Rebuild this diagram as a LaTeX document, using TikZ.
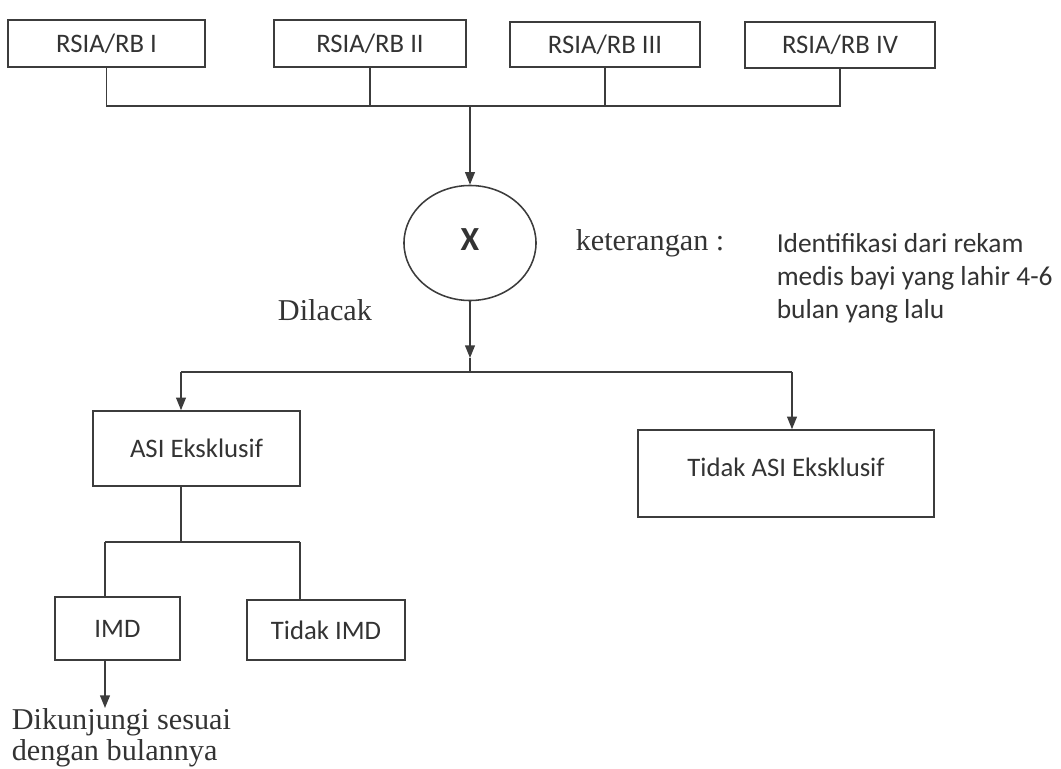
\documentclass[tikz,border=0pt]{standalone}
\usepackage{fontspec}
\setmainfont{Liberation Serif}
\newfontfamily\boxfont{Carlito}
\usetikzlibrary{arrows.meta,shapes.geometric}
\definecolor{ink}{HTML}{3C3C3C}
\definecolor{txt}{HTML}{333333}
\begin{document}
\begin{tikzpicture}[x=0.025cm,y=-0.025cm,
  line width=1.1pt, draw=ink,
  box/.style={draw=ink, line width=1.1pt, inner sep=0pt, text=txt,
    font=\boxfont\fontsize{19}{22}\selectfont},
  serif/.style={text=txt, inner sep=0pt, font=\fontsize{21.5}{22}\selectfont},
  note/.style={text=txt, inner sep=0pt, align=left,
    font=\boxfont\fontsize{19.5}{23.5}\selectfont},
  arr/.style={draw=ink, line width=1.1pt, -{Triangle[length=9pt,width=7pt]}}]
\useasboundingbox (0,0) rectangle (1061,769);

% hospitals
\node[box, minimum width=4.925cm, minimum height=1.175cm] (b1) at (106.5,43.5) {RSIA/RB I};
\node[box, minimum width=4.8cm, minimum height=1.175cm] (b2) at (370,43.5) {RSIA/RB II};
\node[box, minimum width=4.75cm, minimum height=1.125cm] (b3) at (605,44.5) {RSIA/RB III};
\node[box, minimum width=4.75cm, minimum height=1.15cm] (b4) at (840,45) {RSIA/RB IV};

% sample circle
\node[draw=ink, line width=1.1pt, ellipse, minimum width=3.3cm, minimum height=2.875cm,
  inner sep=0pt] (x) at (470,243) {};
\node[text=txt, font=\boxfont\bfseries\fontsize{24}{28}\selectfont] (xl) at (470,240) {X};

\node[serif, anchor=west] (ket) at (575,243) {keterangan :};
\node[note, anchor=north west] (idn) at (776,233) {Identifikasi dari rekam\\medis bayi yang lahir 4-6\\bulan yang lalu};
\node[serif] (dil) at (325,310) {Dilacak};

% outcome boxes
\node[box, minimum width=5.175cm, minimum height=1.875cm] (asi) at (196.5,448.5) {ASI Eksklusif};
\node[box, minimum width=7.4cm, minimum height=2.175cm] (nasi) at (786,473.5) {\raisebox{0.3cm}{Tidak ASI Eksklusif}};
\node[box, minimum width=3.125cm, minimum height=1.575cm] (imd) at (117.5,628.5) {IMD};
\node[box, minimum width=3.95cm, minimum height=1.5cm] (nimd) at (326,630) {Tidak IMD};

\node[serif, anchor=north west, align=left] (kun) at (11,708) {Dikunjungi sesuai\\dengan bulannya};

% junction points
\coordinate (bus) at (470,106);
\coordinate (tip) at (470,358);
\coordinate (split) at (470,372);
\coordinate (sl) at (181,372);
\coordinate (sr) at (792,372);
\coordinate (fork) at (181,542);
\coordinate (fl) at (105,542);
\coordinate (fr) at (300,542);

% collecting bus
\draw (b1.south) |- (bus);
\draw (b4.south) |- (bus);
\draw (b2.south) -- (b2.south |- bus);
\draw (b3.south) -- (b3.south |- bus);
\draw[arr] (bus) -- (x.north);

% tracing
\draw[arr] (x.south) -- (tip);
\draw (tip) -- (split);
\draw (sl) -- (sr);
\draw[arr] (sl) -- (sl |- asi.north);
\draw[arr] (sr) -- (sr |- nasi.north);

% IMD split
\draw (asi.south -| fork) -- (fork);
\draw (fl) -- (fr);
\draw (fl) -- (fl |- imd.north);
\draw (fr) -- (fr |- nimd.north);
\draw[arr] (imd.south -| fl) -- (kun.north -| fl);
\end{tikzpicture}
\end{document}
